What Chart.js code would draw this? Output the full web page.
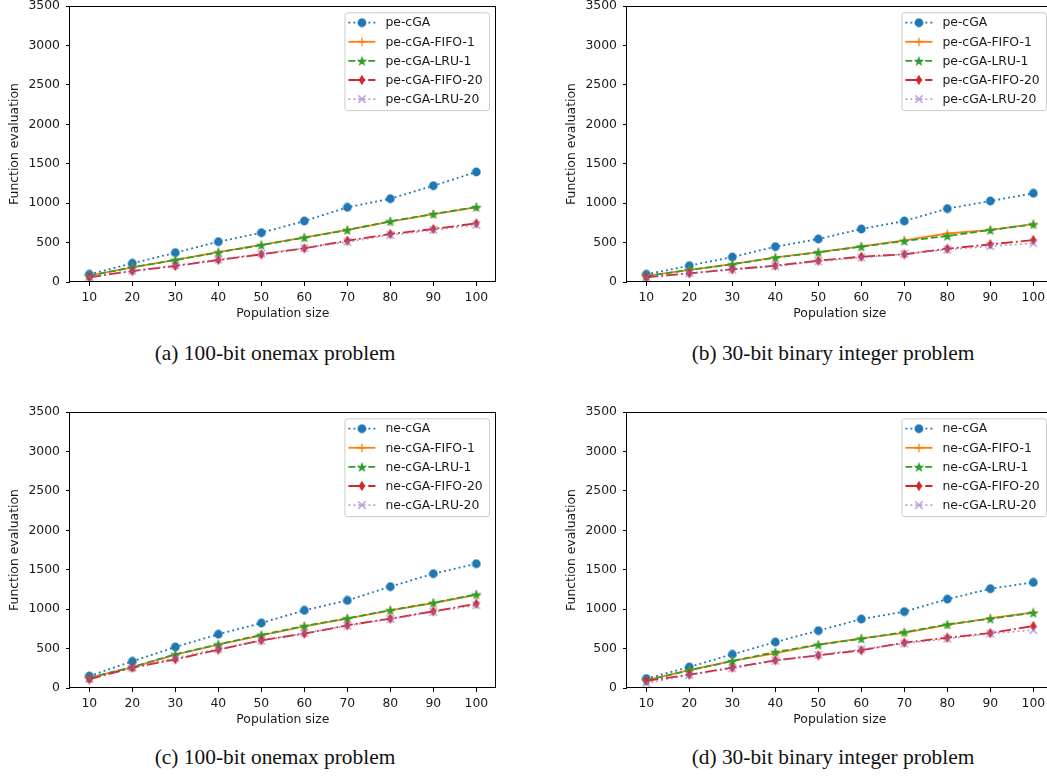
<!DOCTYPE html>
<html>
<head>
<meta charset="utf-8">
<script src="https://cdn.jsdelivr.net/npm/chart.js@4.4.1/dist/chart.umd.min.js"></script>
<style>
  html, body { margin: 0; padding: 0; background: #fff; }
  body { width: 1047px; height: 778px; position: relative; overflow: hidden; }
  .box { position: absolute; width: 520px; height: 330px; }
  .cap { position: absolute; font-family: "Liberation Serif", "Times New Roman", serif; font-size: 21.4px; line-height: 21px; color: #111; white-space: nowrap; transform: translateX(-50%); }
</style>
</head>
<body>
<div class="box" style="left:0px;top:0px"><canvas id="ca"></canvas></div>
<div class="box" style="left:557px;top:0px"><canvas id="cb"></canvas></div>
<div class="box" style="left:0px;top:405.7px"><canvas id="cc"></canvas></div>
<div class="box" style="left:557px;top:405.7px"><canvas id="cd"></canvas></div>
<div class="cap" style="left:275px;top:343px">(a) 100-bit onemax problem</div>
<div class="cap" style="left:833px;top:343px">(b) 30-bit binary integer problem</div>
<div class="cap" style="left:275px;top:747px">(c) 100-bit onemax problem</div>
<div class="cap" style="left:833px;top:747px">(d) 30-bit binary integer problem</div>
<script>
// ---- data ----
const popSizes = [10, 20, 30, 40, 50, 60, 70, 80, 90, 100];
const yTicks = [0, 500, 1000, 1500, 2000, 2500, 3000, 3500];
const labelsPE = ['pe-cGA', 'pe-cGA-FIFO-1', 'pe-cGA-LRU-1', 'pe-cGA-FIFO-20', 'pe-cGA-LRU-20'];
const labelsNE = ['ne-cGA', 'ne-cGA-FIFO-1', 'ne-cGA-LRU-1', 'ne-cGA-FIFO-20', 'ne-cGA-LRU-20'];

const a_cGA    = [97, 237, 372, 511, 625, 773, 947, 1056, 1221, 1395];
const a_FIFO1  = [82, 184, 280, 378, 470, 565, 662, 765, 860, 945];
const a_LRU1   = [80, 186, 279, 376, 469, 562, 659, 770, 862, 951];
const a_FIFO20 = [60, 139, 203, 279, 351, 427, 524, 609, 672, 744];
const a_LRU20  = [62, 142, 210, 285, 357, 430, 510, 595, 660, 725];

const b_cGA    = [97, 207, 317, 448, 545, 672, 773, 930, 1027, 1125];
const b_FIFO1  = [78, 155, 226, 312, 380, 452, 528, 615, 662, 733];
const b_LRU1   = [76, 152, 224, 309, 376, 448, 520, 583, 659, 731];
const b_FIFO20 = [60, 110, 161, 207, 270, 321, 351, 422, 478, 532];
const b_LRU20  = [58, 112, 158, 200, 262, 310, 355, 410, 455, 490];

const c_cGA    = [152, 338, 520, 681, 824, 985, 1111, 1285, 1450, 1576];
const c_FIFO1  = [130, 262, 422, 550, 668, 780, 880, 985, 1078, 1180];
const c_LRU1   = [130, 266, 427, 554, 673, 786, 884, 987, 1080, 1187];
const c_FIFO20 = [110, 258, 363, 486, 605, 689, 795, 880, 972, 1069];
const c_LRU20  = [118, 262, 380, 495, 600, 695, 790, 875, 965, 1050];

const d_cGA    = [119, 266, 427, 583, 727, 874, 968, 1127, 1259, 1339];
const d_FIFO1  = [100, 228, 345, 440, 550, 630, 700, 800, 885, 958];
const d_LRU1   = [98, 224, 342, 456, 549, 625, 709, 806, 878, 954];
const d_FIFO20 = [89, 170, 258, 351, 414, 478, 575, 638, 697, 786];
const d_LRU20  = [60, 165, 250, 345, 420, 490, 565, 625, 690, 735];

// ---- styles ----
const FONT = '"DejaVu Sans", "Liberation Sans", sans-serif';
const FS = 12.4;
const TXT = '#1a1a1a';
const COLORS = ['#1f77b4', '#ff7f0e', '#2ca02c', '#d62728', 'rgba(148,103,189,0.65)'];
const DASHES = [[1.9, 3.1], [], [6.9, 3], [11.9, 3, 1.9, 3], [1.9, 3.1]];

function mk(w, h, draw) {
  const c = document.createElement('canvas');
  c.width = w; c.height = h;
  const x = c.getContext('2d');
  draw(x, w / 2, h / 2);
  return c;
}
const markers = [
  mk(10, 10, (x, cx, cy) => { x.fillStyle = COLORS[0]; x.beginPath(); x.arc(cx, cy, 4.4, 0, Math.PI * 2); x.fill(); }),
  mk(10, 10, (x, cx, cy) => { x.strokeStyle = COLORS[1]; x.lineWidth = 1.3; x.beginPath(); x.moveTo(cx, cy - 4.2); x.lineTo(cx, cy + 4.2); x.moveTo(cx - 4.2, cy); x.lineTo(cx + 4.2, cy); x.stroke(); }),
  mk(12, 12, (x, cx, cy) => {
    x.fillStyle = COLORS[2]; x.beginPath();
    for (let i = 0; i < 10; i++) {
      const r = i % 2 === 0 ? 5.6 : 2.3;
      const ang = -Math.PI / 2 + i * Math.PI / 5;
      const px = cx + r * Math.cos(ang), py = cy + 0.5 + r * Math.sin(ang);
      i === 0 ? x.moveTo(px, py) : x.lineTo(px, py);
    }
    x.closePath(); x.fill();
  }),
  mk(8, 12, (x, cx, cy) => { x.fillStyle = COLORS[3]; x.beginPath(); x.moveTo(cx, cy - 5.2); x.lineTo(cx + 3.2, cy); x.lineTo(cx, cy + 5.2); x.lineTo(cx - 3.2, cy); x.closePath(); x.fill(); }),
  mk(10, 10, (x, cx, cy) => { x.strokeStyle = COLORS[4]; x.lineWidth = 1.5; x.beginPath(); x.moveTo(cx - 3.7, cy - 3.7); x.lineTo(cx + 3.7, cy + 3.7); x.moveTo(cx + 3.7, cy - 3.7); x.lineTo(cx - 3.7, cy + 3.7); x.stroke(); })
];

function datasets(labels, series) {
  return series.map((vals, i) => ({
    label: labels[i],
    data: popSizes.map((p, k) => ({ x: p, y: vals[k] })),
    borderColor: COLORS[i],
    backgroundColor: COLORS[i],
    borderWidth: 1.8,
    borderDash: DASHES[i],
    pointStyle: markers[i],
    pointRadius: 4,
    pointHoverRadius: 4,
    tension: 0,
    fill: false,
    order: 5 - i
  }));
}

const framePlugin = {
  id: 'frame',
  afterDatasetsDraw(chart) {
    const { ctx, chartArea: a } = chart;
    ctx.save();
    ctx.strokeStyle = '#000';
    ctx.lineWidth = 1;
    ctx.strokeRect(Math.round(a.left) - 0.5, Math.round(a.top) + 0.5, Math.round(a.right) - Math.round(a.left), Math.round(a.bottom) - Math.round(a.top) - 1);
    ctx.restore();
  }
};

const legendPlugin = {
  id: 'boxLegend',
  afterDraw(chart) {
    const { ctx, chartArea: a } = chart;
    const ds = chart.data.datasets;
    ctx.save();
    ctx.font = FS + 'px ' + FONT;
    let maxW = 0;
    ds.forEach(d => { maxW = Math.max(maxW, ctx.measureText(d.label).width); });
    const right = a.right - 6.7, top = a.top + 6.3;
    const w = 41 + maxW + 6.3, h = 97.8;
    const left = right - w;
    ctx.beginPath();
    if (ctx.roundRect) ctx.roundRect(left + 0.5, top + 0.5, w, h, 2.5); else ctx.rect(left + 0.5, top + 0.5, w, h);
    ctx.fillStyle = 'rgba(255,255,255,0.8)';
    ctx.fill();
    ctx.strokeStyle = '#cccccc';
    ctx.lineWidth = 1;
    ctx.stroke();
    ds.forEach((d, i) => {
      const y = top + 10.4 + i * 19.1;
      ctx.save();
      ctx.strokeStyle = d.borderColor;
      ctx.lineWidth = d.borderWidth;
      ctx.setLineDash(d.borderDash);
      ctx.beginPath(); ctx.moveTo(left + 4, y); ctx.lineTo(left + 31, y); ctx.stroke();
      ctx.restore();
      const m = d.pointStyle;
      ctx.drawImage(m, left + 17.5 - m.width / 2, y - m.height / 2);
      ctx.fillStyle = TXT;
      ctx.textBaseline = 'middle';
      ctx.textAlign = 'left';
      ctx.fillText(d.label, left + 41, y + 0.5);
    });
    ctx.restore();
  }
};

function makeChart(id, labels, series) {
  return new Chart(document.getElementById(id), {
    type: 'line',
    data: { datasets: datasets(labels, series) },
    plugins: [framePlugin, legendPlugin],
    options: {
      responsive: false,
      animation: false,
      devicePixelRatio: 1,
      layout: { padding: { left: 0, top: 6, right: 24.3, bottom: 0 } },
      plugins: { legend: { display: false }, tooltip: { enabled: false } },
      scales: {
        x: {
          type: 'linear', min: 5.5, max: 104.5,
          afterBuildTicks: s => { s.ticks = popSizes.map(v => ({ value: v })); },
          afterFit: s => { s.height = 48; s.paddingLeft = 0; s.paddingRight = 0; },
          border: { display: false },
          grid: { display: true, drawOnChartArea: false, drawTicks: true, tickLength: 4, color: '#000', lineWidth: 1 },
          ticks: { color: TXT, font: { family: FONT, size: FS }, padding: 4, maxRotation: 0, autoSkip: false, callback: v => String(v) },
          title: { display: true, text: 'Population size', color: TXT, font: { family: FONT, size: FS }, padding: { top: 0, bottom: 8.6 } }
        },
        y: {
          min: 0, max: 3500,
          afterBuildTicks: s => { s.ticks = yTicks.map(v => ({ value: v })); },
          afterFit: s => { s.width = 70; s.paddingTop = 0; s.paddingBottom = 0; },
          border: { display: false },
          grid: { display: true, drawOnChartArea: false, drawTicks: true, tickLength: 4, color: '#000', lineWidth: 1 },
          ticks: { color: TXT, font: { family: FONT, size: FS }, padding: 6, autoSkip: false, callback: v => String(v) },
          title: { display: true, text: 'Function evaluation', color: TXT, font: { family: FONT, size: FS }, padding: { top: 7.5, bottom: 0 } }
        }
      }
    }
  });
}

['ca', 'cb', 'cc', 'cd'].forEach(id => { const c = document.getElementById(id); c.width = 520; c.height = 330; c.style.width = '520px'; c.style.height = '330px'; });

makeChart('ca', labelsPE, [a_cGA, a_FIFO1, a_LRU1, a_FIFO20, a_LRU20]);
makeChart('cb', labelsPE, [b_cGA, b_FIFO1, b_LRU1, b_FIFO20, b_LRU20]);
makeChart('cc', labelsNE, [c_cGA, c_FIFO1, c_LRU1, c_FIFO20, c_LRU20]);
makeChart('cd', labelsNE, [d_cGA, d_FIFO1, d_LRU1, d_FIFO20, d_LRU20]);
</script>
</body>
</html>
